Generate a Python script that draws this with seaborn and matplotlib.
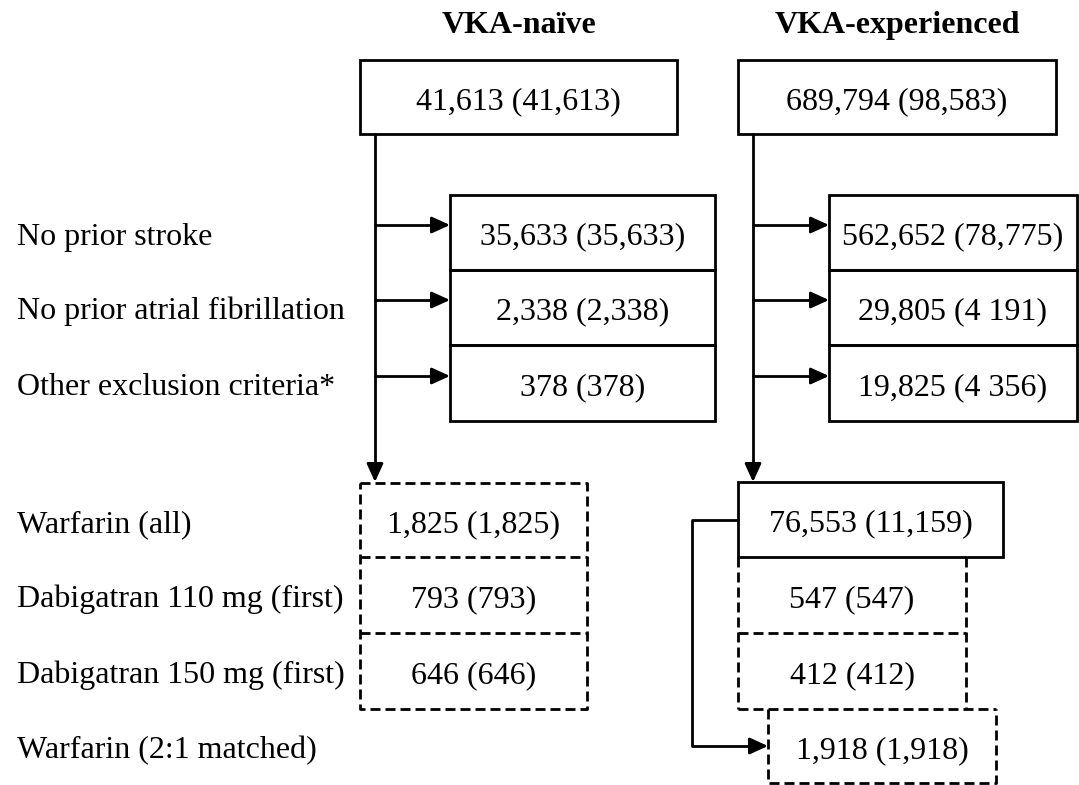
import matplotlib
matplotlib.use("Agg")
import matplotlib.pyplot as plt
from matplotlib.patches import Rectangle
import seaborn as sns

# data
cohorts = ["VKA-naïve", "VKA-experienced"]
start_counts = ["41,613 (41,613)", "689,794 (98,583)"]
exclusion_labels = ["No prior stroke", "No prior atrial fibrillation", "Other exclusion criteria*"]
naive_excluded = ["35,633 (35,633)", "2,338 (2,338)", "378 (378)"]
exp_excluded = ["562,652 (78,775)", "29,805 (4 191)", "19,825 (4 356)"]
group_labels = ["Warfarin (all)", "Dabigatran 110 mg (first)", "Dabigatran 150 mg (first)", "Warfarin (2:1 matched)"]
naive_groups = ["1,825 (1,825)", "793 (793)", "646 (646)"]
exp_groups = ["76,553 (11,159)", "547 (547)", "412 (412)", "1,918 (1,918)"]

sns.set_theme(style="white")
plt.rcParams["font.family"] = ["Liberation Serif", "DejaVu Serif"]
plt.rcParams["text.color"] = "black"
FS = 23
LW = 2
DASH = (0, (3.6, 1.8))

fig, ax = plt.subplots(figsize=(10.79, 7.85), dpi=100)
fig.subplots_adjust(0, 0, 1, 1)
ax.set_xlim(0, 1079)
ax.set_ylim(785, 0)
ax.axis("off")


def label(x, y0, y1, txt, ha="center", **kw):
    # baseline sits a bit below the middle of the row
    ax.text(x, (y0 + y1) / 2 + 12, txt, ha=ha, va="baseline", fontsize=FS, color="black", **kw)


def box(x0, y0, x1, y1, txt):
    ax.add_patch(Rectangle((x0, y0), x1 - x0, y1 - y0, fill=False, ec="black", lw=LW))
    label((x0 + x1) / 2, y0, y1, txt)


def dashed(xs, ys):
    ax.plot(xs, ys, color="black", lw=LW, ls=DASH, solid_capstyle="butt", dash_capstyle="butt")


def arrow(p0, p1):
    ax.annotate("", xy=p1, xytext=p0,
                arrowprops=dict(arrowstyle="-|>,head_length=0.55,head_width=0.25",
                                lw=LW, color="black", shrinkA=0, shrinkB=0, mutation_scale=20))


# column titles and starting boxes
top_x = [(360, 677), (738, 1056)]
trunk_x = [375, 753]
for (x0, x1), title, cnt in zip(top_x, cohorts, start_counts):
    ax.text((x0 + x1) / 2, 33, title, ha="center", va="baseline", fontsize=FS,
            fontweight="bold", color="black")
    box(x0, 60, x1, 134, cnt)

# exclusions
rows = [195, 270, 345, 421]
arrow_y = [225, 300, 376]
for i, lab in enumerate(exclusion_labels):
    label(17, rows[i], rows[i + 1], lab, ha="left")
    box(450, rows[i], 715, rows[i + 1], naive_excluded[i])
    box(829, rows[i], 1077, rows[i + 1], exp_excluded[i])
    for tx, bx in zip(trunk_x, [450, 829]):
        ax.plot([tx, bx - 14], [arrow_y[i]] * 2, color="black", lw=LW)
        arrow((bx - 16, arrow_y[i]), (bx, arrow_y[i]))

# trunks down to the treatment groups
for tx in trunk_x:
    ax.plot([tx, tx], [134, 466], color="black", lw=LW)
    arrow((tx, 464), (tx, 482))

# treatment groups
grows = [483, 557, 633, 709, 784]
for i, lab in enumerate(group_labels):
    label(17, grows[i], grows[i + 1], lab, ha="left")

# VKA-naive groups (dashed)
dashed([360, 587, 587, 360, 360], [grows[0], grows[0], grows[3], grows[3], grows[0]])
for y in grows[1:3]:
    dashed([360, 587], [y, y])
for i, cnt in enumerate(naive_groups):
    label(473.5, grows[i], grows[i + 1], cnt)

# VKA-experienced groups
dashed([738, 738], [grows[1], grows[3]])
dashed([966, 966], [grows[1], grows[3]])
dashed([738, 966], [grows[2], grows[2]])
dashed([738, 996], [grows[3], grows[3]])
dashed([768, 768, 996, 996], [grows[3], grows[4] - 1, grows[4] - 1, grows[3]])
box(738, 482, 1003, 557, exp_groups[0])
label(852, grows[1], grows[2], exp_groups[1])
label(852, grows[2], grows[3], exp_groups[2])
label(882, grows[3], grows[4], exp_groups[3])

# matched-warfarin branch
ax.plot([738, 692, 692, 752], [520, 520, 746, 746], color="black", lw=LW)
arrow((750, 746), (768, 746))

fig.savefig("out.png", dpi=100)
